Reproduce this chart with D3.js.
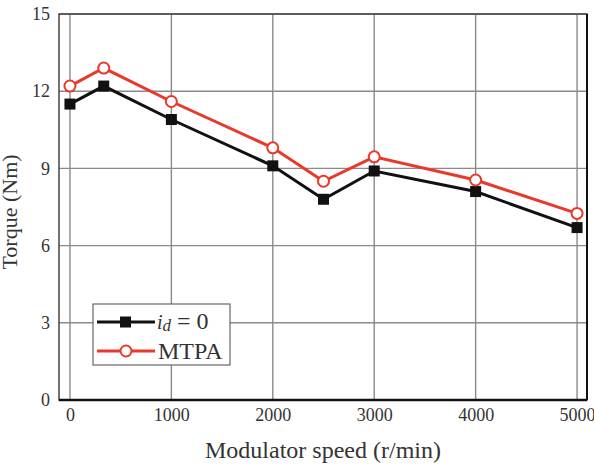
<!DOCTYPE html>
<html>
<head>
<meta charset="utf-8">
<script src="https://cdn.jsdelivr.net/npm/d3@7"></script>
<style>
  body { margin: 0; background: #fff; }
  svg text { font-family: "Liberation Serif", "Times New Roman", serif; fill: #333; }
</style>
</head>
<body>
<svg></svg>
<script>
let speeds = [0, 333, 1000, 2000, 2500, 3000, 4000, 5000]
let idZero = [11.5, 12.2, 10.9, 9.1, 7.8, 8.9, 8.1, 6.7]
let mtpa = [12.2, 12.9, 11.6, 9.8, 8.5, 9.45, 8.55, 7.25]
let xTicks = [0, 1000, 2000, 3000, 4000, 5000]
let yTicks = [0, 3, 6, 9, 12, 15]

let width = 594
let height = 467
let plotLeft = 59, plotRight = 587, plotTop = 14, plotBottom = 400

let svg = d3.select('svg').attr('width', width).attr('height', height)

let xScale = d3.scaleLinear().domain([-108, 5098]).range([plotLeft, plotRight])
let yScale = d3.scaleLinear().domain([0, 15]).range([plotBottom, plotTop])

// grid
svg.append('g').selectAll('line')
  .data(xTicks)
  .enter()
  .append('line')
  .attr('x1', d => xScale(d)).attr('x2', d => xScale(d))
  .attr('y1', plotTop).attr('y2', plotBottom)
  .attr('stroke', '#8a8a8a').attr('stroke-width', 1.4)

svg.append('g').selectAll('line')
  .data(yTicks)
  .enter()
  .append('line')
  .attr('x1', plotLeft).attr('x2', plotRight)
  .attr('y1', d => yScale(d)).attr('y2', d => yScale(d))
  .attr('stroke', '#8a8a8a').attr('stroke-width', 1.4)

// frame
svg.append('rect')
  .attr('x', plotLeft).attr('y', plotTop)
  .attr('width', plotRight - plotLeft).attr('height', plotBottom - plotTop)
  .attr('fill', 'none').attr('stroke', '#444').attr('stroke-width', 1.5)
svg.append('line')
  .attr('x1', plotLeft).attr('x2', plotRight)
  .attr('y1', plotBottom).attr('y2', plotBottom)
  .attr('stroke', '#111').attr('stroke-width', 2.5)
svg.append('line')
  .attr('x1', plotRight).attr('x2', plotRight)
  .attr('y1', plotTop).attr('y2', plotBottom)
  .attr('stroke', '#111').attr('stroke-width', 2)

// axes labels
let xAxis = d3.axisBottom(xScale).tickValues(xTicks).tickFormat(d3.format('d')).tickSize(0).tickPadding(8)
let yAxis = d3.axisLeft(yScale).tickValues(yTicks).tickFormat(d3.format('d')).tickSize(0).tickPadding(9)

let gx = svg.append('g')
  .attr('transform', 'translate(0, ' + plotBottom + ')')
  .call(xAxis)
gx.attr('font-family', null).attr('font-size', null)
gx.select('.domain').remove()
gx.selectAll('text').attr('font-size', 18).attr('fill', '#333')

let gy = svg.append('g')
  .attr('transform', 'translate(' + plotLeft + ', 0)')
  .call(yAxis)
gy.attr('font-family', null).attr('font-size', null)
gy.select('.domain').remove()
gy.selectAll('text').attr('font-size', 18).attr('fill', '#333')

svg.append('text')
  .attr('x', 323).attr('y', 458)
  .attr('text-anchor', 'middle')
  .attr('font-size', 24)
  .text('Modulator speed (r/min)')

svg.append('text')
  .attr('transform', 'translate(17, 212) rotate(-90)')
  .attr('text-anchor', 'middle')
  .attr('font-size', 22)
  .text('Torque (Nm)')

// series
let line = d3.line()
  .x((d, i) => xScale(speeds[i]))
  .y(d => yScale(d))

svg.append('path')
  .datum(idZero)
  .attr('d', line)
  .attr('fill', 'none').attr('stroke', '#111').attr('stroke-width', 3)

svg.append('path')
  .datum(mtpa)
  .attr('d', line)
  .attr('fill', 'none').attr('stroke', '#e8392b').attr('stroke-width', 3)

svg.selectAll('.sq')
  .data(idZero)
  .enter()
  .append('rect')
  .attr('class', 'sq')
  .attr('x', (d, i) => xScale(speeds[i]) - 5.5)
  .attr('y', d => yScale(d) - 5.5)
  .attr('width', 11).attr('height', 11)
  .attr('fill', '#111')

svg.selectAll('.ci')
  .data(mtpa)
  .enter()
  .append('circle')
  .attr('class', 'ci')
  .attr('cx', (d, i) => xScale(speeds[i]))
  .attr('cy', d => yScale(d))
  .attr('r', 5.5)
  .attr('fill', '#fff').attr('stroke', '#e8392b').attr('stroke-width', 2)

// legend
let lg = svg.append('g').attr('transform', 'translate(93, 304)')
lg.append('rect')
  .attr('width', 137).attr('height', 61)
  .attr('fill', '#fff').attr('stroke', '#666').attr('stroke-width', 1.2)

lg.append('line').attr('x1', 4).attr('x2', 62).attr('y1', 18).attr('y2', 18)
  .attr('stroke', '#111').attr('stroke-width', 3)
lg.append('rect').attr('x', 27).attr('y', 12.5).attr('width', 11).attr('height', 11).attr('fill', '#111')
let t1 = lg.append('text').attr('x', 64).attr('y', 25).attr('font-size', 24)
t1.append('tspan').attr('font-style', 'italic').attr('font-size', 20).text('i')
t1.append('tspan').attr('font-style', 'italic').attr('font-size', 17).attr('dy', 2).text('d')
t1.append('tspan').attr('dy', -2).text(' = 0')

lg.append('line').attr('x1', 4).attr('x2', 62).attr('y1', 47).attr('y2', 47)
  .attr('stroke', '#e8392b').attr('stroke-width', 3)
lg.append('circle').attr('cx', 33).attr('cy', 47).attr('r', 5.5)
  .attr('fill', '#fff').attr('stroke', '#e8392b').attr('stroke-width', 2)
lg.append('text').attr('x', 65).attr('y', 55).attr('font-size', 24).text('MTPA')
</script>
</body>
</html>
